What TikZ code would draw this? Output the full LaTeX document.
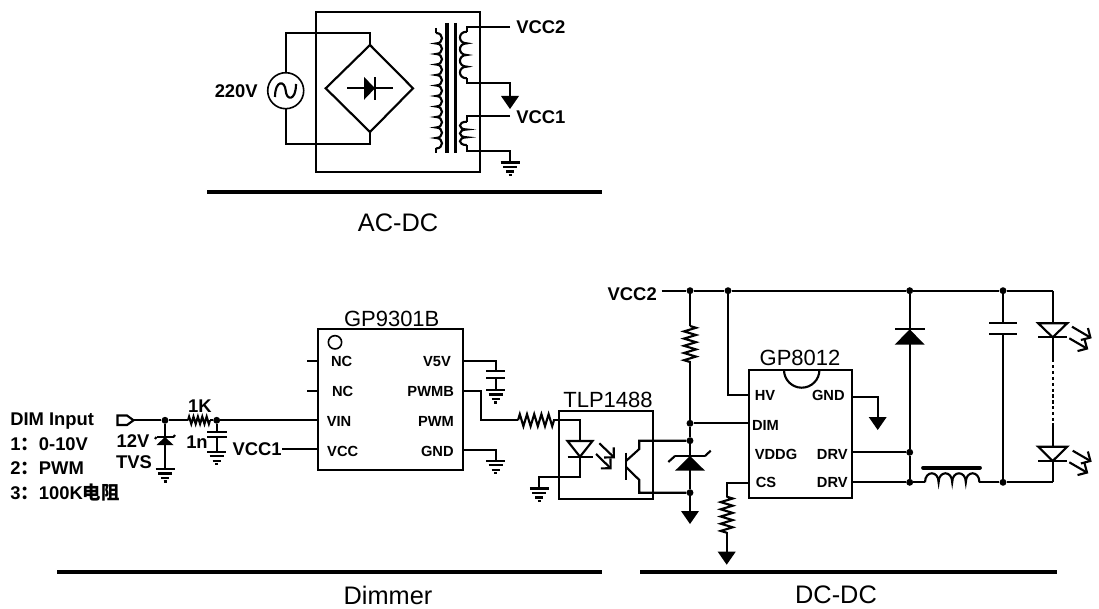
\documentclass[tikz,border=0pt]{standalone}
\usepackage{fontspec}
\setmainfont{Liberation Sans}
\newfontfamily\cjkfont{Noto Sans CJK SC}
\usetikzlibrary{arrows.meta}

\tikzset{
  wire/.style={line width=1.6pt,line join=miter},
  bar/.style={line width=3.2pt},
  junct/.style={circle,fill=black,inner sep=0pt,minimum size=5.2pt},
  lbl/.style={font=\fontsize{13.8}{13.8}\selectfont\bfseries,inner sep=0pt},
  pinlbl/.style={font=\fontsize{11}{11}\selectfont\bfseries,inner sep=0pt},
  chiplbl/.style={font=\fontsize{16.5}{16.5}\selectfont,inner sep=0pt},
  seclbl/.style={font=\fontsize{19}{19}\selectfont,inner sep=0pt},
  chip/.style={draw,line width=1.6pt,inner sep=0pt},
  light/.style={wire,-{Straight Barb[length=5.2pt,width=10.4pt]}},
  gnd/.pic={
    \draw[wire] (-9.5,0) -- (9.5,0);
    \draw[wire] (-7,4.5) -- (7,4.5);
    \draw[wire] (-4,9) -- (4,9);
    \draw[wire] (-1.5,12.5) -- (1.5,12.5);
  },
  pwrdown/.pic={\fill (-9,0) -- (9,0) -- (0,13) -- cycle;},
  res/.pic={
    \draw[wire] (0,0) -- (1.8,-6) -- (5.4,6) -- (9,-6) -- (12.6,6) -- (16.2,-6) -- (19.8,6) -- (23.4,-6) -- (27,6) -- (30.6,-6) -- (34.2,6) -- (36,0);
  },
  pics/coil/.style n args={3}{code={
    \draw[wire] (0,0) foreach \i in {1,...,#1} {
      .. controls (#3,{(\i-1)*#2}) and (#3,{\i*#2}) .. (0,{\i*#2}) };
  }},
  pics/solid diode/.style n args={2}{code={
    \fill (0,0) -- (-#1,#2) -- (-#1,-#2) -- cycle;
    \draw[wire] (0,#2) -- (0,-#2);
  }},
  pics/open diode/.style n args={2}{code={
    \draw[wire] (0,0) -- (-#1,#2) -- (-#1,-#2) -- cycle;
    \draw[wire] (0,#2) -- (0,-#2);
  }},
}

\begin{document}
\begin{tikzpicture}[x=0.75pt,y=-0.75pt]
\useasboundingbox (0,0) rectangle (1099,609);

% AC-DC
\node[chip,minimum width=123pt,minimum height=120pt] (acbox) at (398,92) {};
\node[circle,draw,line width=1.2pt,inner sep=0pt,minimum size=27pt,fill=white] (acsrc) at (285.7,90.7) {};
\node[lbl,anchor=east] (acvolt) at (258,90.7) {220V};
\coordinate (brT) at (370,45);
\coordinate (brR) at (413,88.3);
\coordinate (brB) at (370,132);
\coordinate (brL) at (325.7,88.3);
\coordinate (acTL) at (285.7,33);
\coordinate (acBL) at (285.7,144);
\coordinate (acTR) at (370,33);
\coordinate (acBR) at (370,144);
\draw[wire] (acsrc) -- (acTL) -- (acTR) -- (brT);
\draw[wire] (acsrc) -- (acBL) -- (acBR) -- (brB);
\draw[wire] (brT) -- (brR) -- (brB) -- (brL) -- cycle;
\draw[wire] (275,97) .. controls (275,80) and (285,80) .. (285.7,90.7) .. controls (286.5,101) and (296,101) .. (296,84);
\coordinate (brDa) at (347,88.3);
\coordinate (brDb) at (393,88.3);
\draw[wire] (brDa) -- (brDb);
\pic at (375,88.3) {solid diode={11}{11.5}};

\coordinate (coreAt) at (447,23);
\coordinate (coreAb) at (447,153);
\coordinate (coreBt) at (455.7,23);
\coordinate (coreBb) at (455.7,153);
\draw[wire,line width=3pt] (coreAt) -- (coreAb);
\draw[wire,line width=2.2pt] (coreBt) -- (coreBb);
\pic at (436,33) {coil={11}{10.5}{8}};
\coordinate (priA) at (436,28);
\coordinate (priB) at (436,33);
\coordinate (priC) at (436,148.5);
\coordinate (priD) at (436,153);
\draw[wire] (priA) -- (priB);
\draw[wire] (priC) -- (priD);

\node[lbl,anchor=west] (vcctwoA) at (516,27) {VCC2};
\node[lbl,anchor=west] (vcconeA) at (516,117) {VCC1};
\coordinate (secAt) at (466.7,26.7);
\coordinate (secAa) at (466.7,31.7);
\coordinate (secAb) at (466.7,78.3);
\coordinate (secAe) at (466.7,83.3);
\coordinate (secAg) at (510,83.3);
\coordinate (secAh) at (510,96);
\coordinate (secAv) at (510,26.7);
\draw[wire] (secAv) -- (secAt) -- (secAa);
\pic at (secAa) {coil={4}{11.65}{-9}};
\draw[wire] (secAb) -- (secAe) -- (secAg) -- (secAh);
\pic at (secAh) {pwrdown};

\coordinate (secBt) at (466.7,116);
\coordinate (secBa) at (466.7,121.7);
\coordinate (secBb) at (466.7,145);
\coordinate (secBe) at (466.7,151);
\coordinate (secBg) at (510,151);
\coordinate (secBh) at (510,162.5);
\coordinate (secBv) at (510,116);
\draw[wire] (secBv) -- (secBt) -- (secBa);
\pic at (secBa) {coil={3}{7.8}{-9}};
\draw[wire] (secBb) -- (secBe) -- (secBg) -- (secBh);
\pic at (secBh) {gnd};

\draw[bar] (207,192) -- (602,192);
\node[seclbl] (acdc) at (398,223) {AC-DC};

% Dimmer input
\node[lbl,anchor=west] (diminp) at (10,421) {DIM Input};
\node[lbl,anchor=west] (dimone) at (10,444) {1{\cjkfont ：}0-10V};
\node[lbl,anchor=west] (dimtwo) at (10,468) {2{\cjkfont ：}PWM};
\node[lbl,anchor=west] (dimthr) at (10,493) {3{\cjkfont ：}100K{\cjkfont 电阻}};
\coordinate (dimtip) at (133.5,420.3);
\draw[wire] (dimtip) -- (127,425) -- (117.5,425) -- (117.5,415.5) -- (127,415.5) -- cycle;
\node[junct] (jtvs) at (165,420.3) {};
\node[junct] (jrc) at (216.7,420.3) {};
\coordinate (rinA) at (188,420.3);
\coordinate (rinB) at (210,420.3);
\draw[wire] (dimtip) -- (jtvs) -- (rinA);
\pic[xscale=.61,yscale=.6] at (rinA) {res};
\draw[wire] (rinB) -- (jrc);
\node[lbl] (rinval) at (200,406) {1K};
\node[lbl] (tvsval) at (133,441) {12V};
\node[lbl] (tvsname) at (134,462) {TVS};
\node[lbl] (capval) at (197,442) {1n};

\coordinate (tvsgnd) at (165,469);
\draw[wire] (jtvs) -- (tvsgnd);
\pic[rotate=90] at (165,437) {solid diode={8}{8.5}};
\draw[wire] (156.5,437) -- (155,439);
\draw[wire] (173.5,437) -- (175,435);
\pic at (tvsgnd) {gnd};

\coordinate (capAa) at (216.7,431.7);
\coordinate (capAb) at (216.7,437.3);
\coordinate (capgnd) at (216.7,451.7);
\draw[wire] (jrc) -- (capAa);
\draw[wire] (207,431.7) -- (226.7,431.7);
\draw[wire] (207,437.3) -- (226.7,437.3);
\draw[wire] (capAb) -- (capgnd);
\pic at (capgnd) {gnd};

% GP9301B
\node[chip,minimum width=108.3pt,minimum height=105.5pt] (dimic) at (390.5,399.6) {};
\node[chiplbl] (dimicname) at (391.7,319) {GP9301B};
\node[circle,draw,line width=1.2pt,inner sep=0pt,minimum size=10pt] (dimicmark) at (335,342.3) {};
\node[pinlbl] (pinNCa) at (341.7,361.5) {NC};
\node[pinlbl] (pinNCb) at (342.7,391.5) {NC};
\node[pinlbl] (pinVIN) at (339,421.5) {VIN};
\node[pinlbl] (pinVCC) at (342.7,451.5) {VCC};
\node[pinlbl] (pinVFV) at (437,361.5) {V5V};
\node[pinlbl] (pinPWMB) at (430.7,391.5) {PWMB};
\node[pinlbl] (pinPWM) at (436,421.5) {PWM};
\node[pinlbl] (pinGND) at (437.3,451.5) {GND};
\coordinate (stubA) at (307.3,361.3);
\coordinate (stubB) at (307.3,390.7);
\draw[wire] (stubA) -- (stubA -| dimic.west);
\draw[wire] (stubB) -- (stubB -| dimic.west);
\draw[wire] (jrc) -- (jrc -| dimic.west);
\node[lbl,anchor=east] (vcconeB) at (282,449) {VCC1};
\draw[wire] (vcconeB.east |- 0,449.3) -- (dimic.west |- 0,449.3);

\coordinate (vfvA) at (495.7,361.3);
\coordinate (vfvB) at (495.7,371);
\coordinate (vfvC) at (495.7,377.7);
\coordinate (vfvG) at (495.7,390);
\draw[wire] (vfvA -| dimic.east) -- (vfvA) -- (vfvB);
\draw[wire] (486,371) -- (505.4,371);
\draw[wire] (486,377.7) -- (505.4,377.7);
\draw[wire] (vfvC) -- (vfvG);
\pic at (vfvG) {gnd};

\coordinate (pwmA) at (481,390.7);
\coordinate (pwmB) at (481,420.2);
\coordinate (roA) at (518,420.2);
\coordinate (roB) at (553,420.2);
\draw[wire] (pwmA -| dimic.east) -- (pwmA) -- (pwmB) -- (roA);
\pic at (roA) {res};

\coordinate (gndA) at (495.7,450);
\coordinate (gndB) at (495.7,460.7);
\draw[wire] (gndA -| dimic.east) -- (gndA) -- (gndB);
\pic at (gndB) {gnd};

% TLP1488
\node[chip,minimum width=70pt,minimum height=66.5pt] (opto) at (606,455) {};
\node[chiplbl] (optoname) at (608,399.5) {TLP1488};
\coordinate (ledT) at (580,420.2);
\coordinate (ledA) at (580,441);
\coordinate (ledK) at (580,456.7);
\coordinate (ledC) at (580,477.3);
\coordinate (ledD) at (539.3,477.3);
\coordinate (ledG) at (539.3,488.5);
\draw[wire] (roB) -- (ledT) -- (ledA);
\pic[rotate=-90] at (ledK) {open diode={15.7}{12.5}};
\draw[wire] (ledK) -- (ledC) -- (ledD) -- (ledG);
\pic at (ledG) {gnd};
\coordinate (lghtAa) at (599.3,443.3);
\coordinate (lghtAb) at (615,458.3);
\coordinate (lghtBa) at (596,454);
\coordinate (lghtBb) at (611.7,469.3);
\draw[light] (lghtAa) -- (lghtAb);
\draw[light] (lghtBa) -- (lghtBb);

\node[junct] (jdim) at (690,423.3) {};
\node[junct] (jcol) at (690,440.7) {};
\node[junct] (jemi) at (690,492.7) {};
\coordinate (qBt) at (626,452.7);
\coordinate (qBb) at (626,480);
\coordinate (qCa) at (626,461);
\coordinate (qCb) at (639.3,449);
\coordinate (qCc) at (639.3,440.7);
\coordinate (qEa) at (626,467);
\coordinate (qEb) at (639.3,480);
\coordinate (qEc) at (639.3,492.7);
\draw[wire] (qBt) -- (qBb);
\draw[wire] (qCa) -- (qCb) -- (qCc) -- (jcol);
\draw[wire] (qEa) -- (qEb) -- (qEc) -- (jemi);

% DC-DC
\node[lbl,anchor=east] (vcctwoB) at (657,294) {VCC2};
\node[junct] (jvcc) at (690,290.7) {};
\node[junct] (jhv) at (728,290.7) {};
\node[junct] (jdio) at (909.7,290.7) {};
\node[junct] (jcap) at (1003,290.7) {};
\coordinate (railL) at (661.7,290.7);
\coordinate (railR) at (1052.7,290.7);
\draw[wire] (railL) -- (jvcc) -- (jhv) -- (jdio) -- (jcap) -- (railR);
\coordinate (rupA) at (690,326);
\coordinate (rupB) at (690,361);
\draw[wire] (jvcc) -- (rupA);
\pic[rotate=-90] at (rupA) {res};
\draw[wire] (rupB) -- (jdim) -- (jcol);
\draw[wire] (jcol) -- (jemi);
\pic[rotate=90] at (690,456) {solid diode={14.7}{15}};
\draw[wire] (675,456) -- (668.3,462);
\draw[wire] (705,456) -- (710.7,450.7);
\coordinate (emiG) at (690,511);
\draw[wire] (jemi) -- (emiG);
\pic at (emiG) {pwrdown};

\node[chip,fill=white,minimum width=77.5pt,minimum height=96.2pt] (drvic) at (800.6,434.2) {};
\draw[wire] (784,370) arc[start angle=180,end angle=0,radius=17.7];
\node[chiplbl] (drvicname) at (800,357.5) {GP8012};
\node[pinlbl] (pinHV) at (765,395.5) {HV};
\node[pinlbl] (pinDIM) at (765.5,425) {DIM};
\node[pinlbl] (pinVDDG) at (776,454) {VDDG};
\node[pinlbl] (pinCS) at (766,482.5) {CS};
\node[pinlbl] (pinGNDb) at (828.3,395.5) {GND};
\node[pinlbl] (pinDRVa) at (832.3,454) {DRV};
\node[pinlbl] (pinDRVb) at (832.3,482.5) {DRV};

\coordinate (hvA) at (728,395);
\draw[wire] (jhv) -- (hvA) -- (hvA -| drvic.west);
\draw[wire] (jdim) -- (jdim -| drvic.west);
\coordinate (csA) at (726.7,483.3);
\coordinate (csR) at (726.7,496.7);
\coordinate (csS) at (726.7,531.7);
\coordinate (csG) at (726.7,551.7);
\draw[wire] (csA -| drvic.west) -- (csA) -- (csR);
\pic[rotate=-90] at (csR) {res};
\draw[wire] (csS) -- (csG);
\pic at (csG) {pwrdown};
\coordinate (gndbA) at (877.7,396.7);
\coordinate (gndbB) at (877.7,417);
\draw[wire] (gndbA -| drvic.east) -- (gndbA) -- (gndbB);
\pic at (gndbB) {pwrdown};

\node[junct] (jdrva) at (909.7,452.3) {};
\node[junct] (jdrvb) at (909.7,482.3) {};
\draw[wire] (jdrva -| drvic.east) -- (jdrva);
\draw[wire] (jdrvb -| drvic.east) -- (jdrvb);
\draw[wire] (jdio) -- (jdrva) -- (jdrvb);
\pic[rotate=90] at (909.7,329.3) {solid diode={15.4}{15}};

\coordinate (indA) at (925,482.3);
\coordinate (indB) at (979.3,482.3);
\node[junct] (jind) at (1003,482.3) {};
\coordinate (ledOb) at (1052.7,482.3);
\draw[wire] (jdrvb) -- (indA);
\pic[rotate=90] at (indA) {coil={4}{13.6}{12}};
\draw[wire] (indB) -- (jind) -- (ledOb);
\coordinate (indcA) at (923,467.7);
\coordinate (indcB) at (980,467.7);
\draw[wire,line width=2.8pt,line cap=round] (indcA) -- (indcB);

\coordinate (capBa) at (1003,323.3);
\coordinate (capBb) at (1003,334);
\draw[wire] (jcap) -- (capBa);
\draw[wire] (989,323.3) -- (1016.7,323.3);
\draw[wire] (989,334) -- (1016.7,334);
\draw[wire] (capBb) -- (jind);

\coordinate (ledAa) at (1052.7,323.3);
\coordinate (ledAk) at (1052.7,337.3);
\coordinate (ledAd) at (1052.7,359.3);
\coordinate (ledBd) at (1052.7,423.3);
\coordinate (ledBa) at (1052.7,446.7);
\coordinate (ledBk) at (1052.7,461);
\draw[wire] (railR) -- (ledAa);
\pic[rotate=-90] at (ledAk) {open diode={14}{14.5}};
\draw[wire] (ledAk) -- (ledAd);
\draw[wire,dash pattern=on 2.4pt off 2pt] (ledAd) -- (ledBd);
\draw[wire] (ledBd) -- (ledBa);
\pic[rotate=-90] at (ledBk) {open diode={14.3}{14.5}};
\draw[wire] (ledBk) -- (ledOb);

\coordinate (lghtCa) at (1072,326.7);
\coordinate (lghtCb) at (1091.7,338.3);
\coordinate (lghtDa) at (1069.3,338.3);
\coordinate (lghtDb) at (1088.3,349.3);
\coordinate (lghtEa) at (1072.7,450.7);
\coordinate (lghtEb) at (1091.7,461.7);
\coordinate (lghtFa) at (1069.3,462.3);
\coordinate (lghtFb) at (1088.3,473.3);
\draw[light] (lghtCa) -- (lghtCb);
\draw[light] (lghtDa) -- (lghtDb);
\draw[light] (lghtEa) -- (lghtEb);
\draw[light] (lghtFa) -- (lghtFb);

% section bars
\draw[bar] (57,572) -- (602,572);
\draw[bar] (640,572) -- (1057,572);
\node[seclbl] (dimmer) at (388,595) {Dimmer};
\node[seclbl] (dcdc) at (836,595) {DC-DC};
\end{tikzpicture}
\end{document}
